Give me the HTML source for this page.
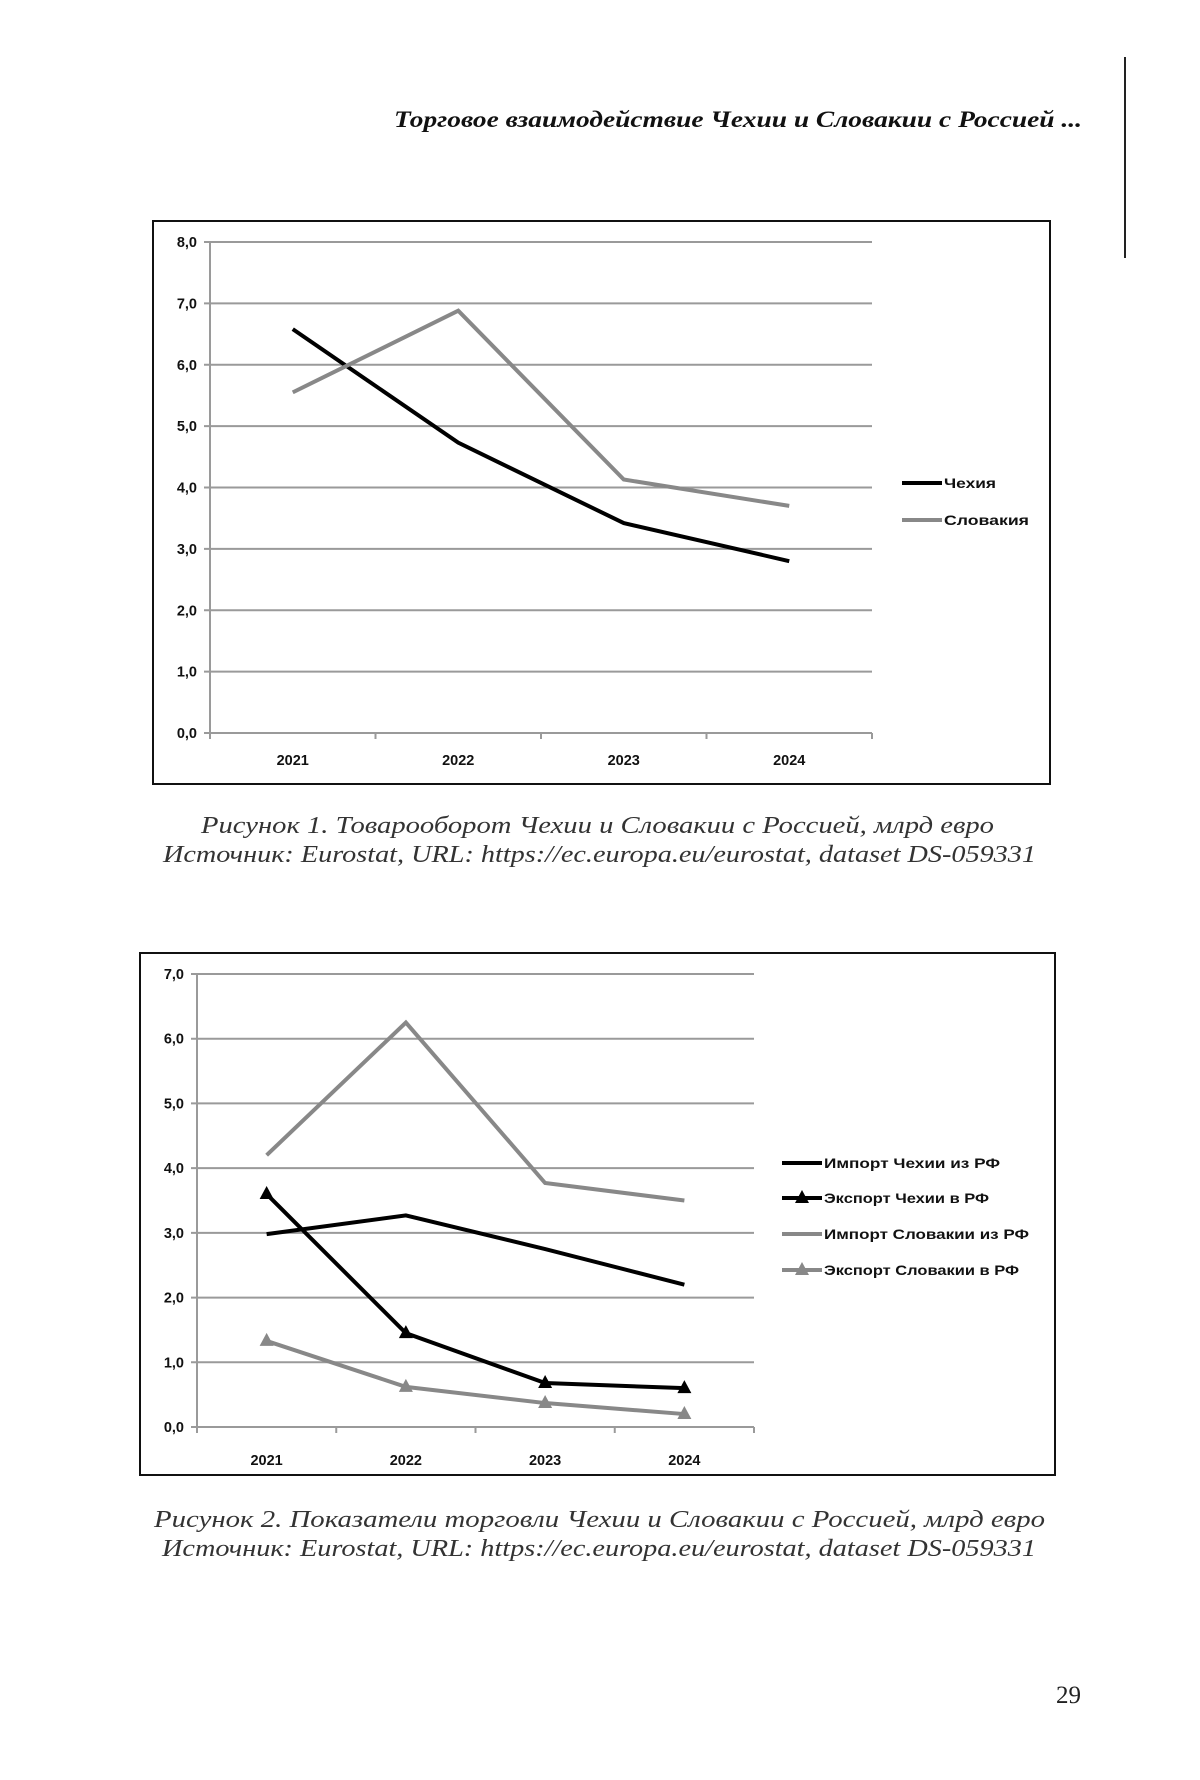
<!DOCTYPE html>
<html><head><meta charset="utf-8"><style>
html,body{margin:0;padding:0;background:#fff;}
svg{display:block;}
.tick{font-family:"Liberation Sans",sans-serif;font-weight:bold;font-size:14.5px;fill:#111;}
.leg{font-family:"Liberation Sans",sans-serif;font-weight:bold;font-size:14px;fill:#111;}
.cap{font-family:"Liberation Serif",serif;font-style:italic;font-size:24px;fill:#333;}
</style></head><body>
<svg id="page" width="1200" height="1780" viewBox="0 0 1200 1780">
<line x1="1125" y1="57" x2="1125" y2="258" stroke="#222" stroke-width="2"/>
<text x="1082" y="127" text-anchor="end" textLength="688" lengthAdjust="spacingAndGlyphs" style="font-family:'Liberation Serif',serif;font-style:italic;font-weight:bold;font-size:23px;fill:#111">Торговое взаимодействие Чехии и Словакии с Россией ...</text>
<g id="c1"></g>
<text class="cap" x="201" y="833" textLength="793" lengthAdjust="spacingAndGlyphs">Рисунок 1. Товарооборот Чехии и Словакии с Россией, млрд евро</text>
<text class="cap" x="163" y="862" textLength="873" lengthAdjust="spacingAndGlyphs">Источник: Eurostat, URL: https://ec.europa.eu/eurostat, dataset DS-059331</text>
<g id="c2"></g>
<text class="cap" x="154" y="1527" textLength="891" lengthAdjust="spacingAndGlyphs">Рисунок 2. Показатели торговли Чехии и Словакии с Россией, млрд евро</text>
<text class="cap" x="162" y="1556" textLength="874" lengthAdjust="spacingAndGlyphs">Источник: Eurostat, URL: https://ec.europa.eu/eurostat, dataset DS-059331</text>
<text x="1081" y="1703" text-anchor="end" style="font-family:'Liberation Serif',serif;font-size:25px;fill:#222">29</text>
</svg>
<script>
const categories1 = ["2021","2022","2023","2024"];
const czechTurnover = [6.58, 4.73, 3.42, 2.8];
const slovakTurnover = [5.55, 6.88, 4.13, 3.7];
const yTicks1 = ["0,0","1,0","2,0","3,0","4,0","5,0","6,0","7,0","8,0"];

const categories2 = ["2021","2022","2023","2024"];
const czImport = [2.98, 3.27, 2.75, 2.2];
const czExport = [3.6, 1.45, 0.68, 0.6];
const skImport = [4.2, 6.25, 3.77, 3.5];
const skExport = [1.33, 0.62, 0.37, 0.2];
const yTicks2 = ["0,0","1,0","2,0","3,0","4,0","5,0","6,0","7,0"];

const NS = "http://www.w3.org/2000/svg";
function mk(parent, tag, attrs){const e=document.createElementNS(NS,tag);for(const k in attrs)e.setAttribute(k,attrs[k]);parent.appendChild(e);return e;}

function drawChart(g, cfg){
  const fr = mk(g,'rect',{x:cfg.fx,y:cfg.fy,width:cfg.fw,height:cfg.fh,fill:'#fff',stroke:'#111','stroke-width':2});
  
  
  const n = cfg.cats.length, yMax = cfg.ticks.length-1;
  const bw = (cfg.x1-cfg.x0)/n;
  const xs = i => cfg.x0 + bw*(i+0.5);
  const ys = v => cfg.yb - (v/yMax)*(cfg.yb-cfg.yt);
  cfg.ticks.forEach((t,i)=>{
    const y = ys(i);
    const gl = mk(g,'line',{x1:cfg.x0-6,y1:y,x2:cfg.x1,y2:y,stroke:'#9a9a9a','stroke-width':2});
    
    
    const tx = mk(g,'text',{x:cfg.x0-13,y:y+5,'text-anchor':'end',class:'tick'});
    tx.textContent=t;
    
    
  });
  const ax = mk(g,'line',{x1:cfg.x0,y1:cfg.yt,x2:cfg.x0,y2:cfg.yb+6,stroke:'#9a9a9a','stroke-width':2});
  
  
  for(let i=0;i<=n;i++){
    const tk = mk(g,'line',{x1:cfg.x0+bw*i,y1:cfg.yb,x2:cfg.x0+bw*i,y2:cfg.yb+6,stroke:'#9a9a9a','stroke-width':2});
    
    
  }
  cfg.cats.forEach((c,i)=>{
    const tx = mk(g,'text',{x:xs(i),y:cfg.xly,'text-anchor':'middle',class:'tick'});
    tx.textContent=c;
    
    
  });
  cfg.series.forEach((s,si)=>{
    const pts = s.vals.map((v,i)=>xs(i)+','+ys(v)).join(' ');
    const pl = mk(g,'polyline',{points:pts,fill:'none',stroke:s.color,'stroke-width':4,'stroke-linejoin':'miter'});
    
    
    if(s.marker){
      s.vals.forEach((v,i)=>{
        const x=xs(i), y=ys(v);
        const m = mk(g,'polygon',{points:`${x},${y-8} ${x-7},${y+5} ${x+7},${y+5}`,fill:s.color});
        
        
      });
    }
    const ly = cfg.legY[si];
    const ll = mk(g,'line',{x1:cfg.legX,y1:ly,x2:cfg.legX+cfg.legLen,y2:ly,stroke:s.color,'stroke-width':4});
    
    
    if(s.marker){
      const cx = cfg.legX+cfg.legLen/2;
      const m = mk(g,'polygon',{points:`${cx},${ly-8} ${cx-7},${ly+5} ${cx+7},${ly+5}`,fill:s.color});
      
      
    }
    const lt = mk(g,'text',{x:cfg.legX+cfg.legLen+2,y:ly+5,class:'leg'});
    lt.textContent=s.name;
    if(s.tl){lt.setAttribute('textLength',s.tl);lt.setAttribute('lengthAdjust','spacingAndGlyphs');}
    
    
  });
}

drawChart(document.getElementById('c1'),{
  fx:153,fy:221,fw:897,fh:563,x0:210,x1:872,yt:242,yb:733,xly:765,
  cats:categories1,ticks:yTicks1,legX:902,legLen:40,legY:[483,520],
  series:[
    {name:'Чехия',vals:czechTurnover,color:'#000',tl:52},
    {name:'Словакия',vals:slovakTurnover,color:'#888',tl:85}
  ]
});
drawChart(document.getElementById('c2'),{
  fx:140,fy:953,fw:915,fh:522,x0:197,x1:754,yt:974,yb:1427,xly:1465,
  cats:categories2,ticks:yTicks2,legX:782,legLen:40,legY:[1163,1198,1234,1270],
  series:[
    {name:'Импорт Чехии из РФ',vals:czImport,color:'#000',tl:176},
    {name:'Экспорт Чехии в РФ',vals:czExport,color:'#000',marker:true,tl:165},
    {name:'Импорт Словакии из РФ',vals:skImport,color:'#888',tl:205},
    {name:'Экспорт Словакии в РФ',vals:skExport,color:'#888',marker:true,tl:195}
  ]
});
</script>
</body></html>
